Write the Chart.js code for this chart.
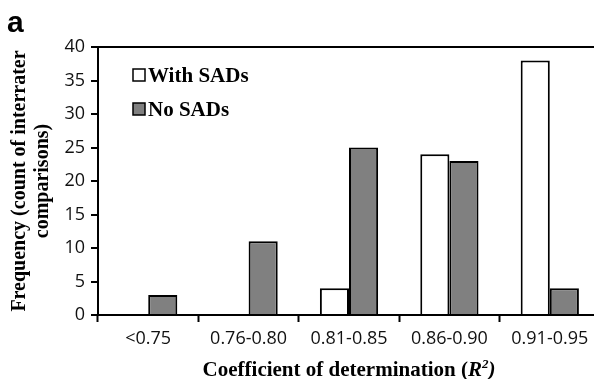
<!DOCTYPE html>
<html>
<head>
<meta charset="utf-8">
<script src="https://cdn.jsdelivr.net/npm/chart.js@4"></script>
<style>
  html, body { margin: 0; padding: 0; background: #fff; overflow: hidden; }
  #wrap { width: 600px; height: 379px; }
</style>
</head>
<body>
<div id="wrap"><canvas id="chart"></canvas></div>
<script>
// data
const categories = ["<0.75", "0.76-0.80", "0.81-0.85", "0.86-0.90", "0.91-0.95"];
const withSADs = [0, 0, 4, 24, 38];
const noSADs = [3, 11, 25, 23, 4];
const yMin = 0, yMax = 40, yStep = 5;

const serifBold = "bold 21px 'Liberation Serif', 'Times New Roman', serif";

// panel letter, legend inside the plot, x title with italic R²
const overlay = {
  id: "overlay",
  afterDraw(chart) {
    const ctx = chart.ctx;
    const area = chart.chartArea;
    ctx.save();

    ctx.fillStyle = "#000";
    ctx.font = "bold 30px 'Liberation Sans', Arial, sans-serif";
    ctx.textBaseline = "alphabetic";
    ctx.textAlign = "left";
    ctx.fillText("a", 7, 32);

    // legend
    chart.data.datasets.forEach((ds, i) => {
      const y = 69 + i * 34;
      ctx.fillStyle = ds.backgroundColor;
      ctx.fillRect(133, y, 12, 12);
      ctx.lineWidth = 1.5;
      ctx.strokeStyle = "#000";
      ctx.strokeRect(133, y, 12, 12);
      ctx.fillStyle = "#000";
      ctx.font = serifBold;
      ctx.fillText(ds.label, 148, y + 13);
    });

    // x axis title
    const parts = [
      { t: "Coefficient of determination (", f: serifBold, dy: 0 },
      { t: "R", f: "italic " + serifBold, dy: 0 },
      { t: "2", f: "italic bold 13px 'Liberation Serif', serif", dy: -8 },
      { t: ")", f: "italic " + serifBold, dy: 0 }
    ];
    let total = 0;
    parts.forEach(p => { ctx.font = p.f; p.w = ctx.measureText(p.t).width; total += p.w; });
    let x = (area.left + area.right) / 2 - total / 2;
    const base = 376;
    parts.forEach(p => {
      ctx.font = p.f;
      ctx.fillText(p.t, x, base + p.dy);
      x += p.w;
    });
    ctx.restore();
  }
};

new Chart(document.getElementById("chart"), {
  type: "bar",
  data: {
    labels: categories,
    datasets: [
      {
        label: "With SADs",
        data: withSADs,
        backgroundColor: "#ffffff",
        borderColor: "#000",
        borderWidth: 2,
        barPercentage: 1,
        categoryPercentage: 0.58
      },
      {
        label: "No SADs",
        data: noSADs,
        backgroundColor: "#808080",
        borderColor: "#000",
        borderWidth: 2,
        barPercentage: 1,
        categoryPercentage: 0.58
      }
    ]
  },
  options: {
    responsive: true,
    maintainAspectRatio: false,
    animation: false,
    layout: { padding: { top: 47, right: 0, left: 0, bottom: 0 } },
    plugins: {
      legend: { display: false },
      tooltip: { enabled: false }
    },
    scales: {
      x: {
        offset: true,
        grid: {
          offset: true,
          drawOnChartArea: false,
          tickLength: 7,
          tickColor: "#000",
          tickWidth: 2
        },
        border: { color: "#000", width: 2 },
        ticks: {
          color: "#111",
          font: { family: "'Open Sans', sans-serif", size: 18 },
          padding: 6,
          maxRotation: 0
        },
        afterFit(scale) { scale.height = 64; }
      },
      y: {
        min: yMin,
        max: yMax,
        grid: {
          drawOnChartArea: true,
          color: (c) => c.tick && c.tick.value === yMax ? "#000" : "rgba(0,0,0,0)",
          lineWidth: 2,
          tickLength: 7,
          tickColor: "#000",
          tickWidth: 2
        },
        border: { color: "#000", width: 2 },
        ticks: {
          stepSize: yStep,
          color: "#111",
          font: { family: "'Open Sans', sans-serif", size: 18 },
          padding: 6
        },
        title: {
          display: true,
          text: ["Frequency (count of interrater", "comparisons)"],
          color: "#000",
          font: { family: "'Liberation Serif', 'Times New Roman', serif", size: 20, weight: "bold", lineHeight: 1.15 },
          padding: { top: 8, bottom: 0 }
        },
        afterFit(scale) { scale.width = 98; }
      }
    }
  },
  plugins: [overlay]
});
</script>
</body>
</html>
